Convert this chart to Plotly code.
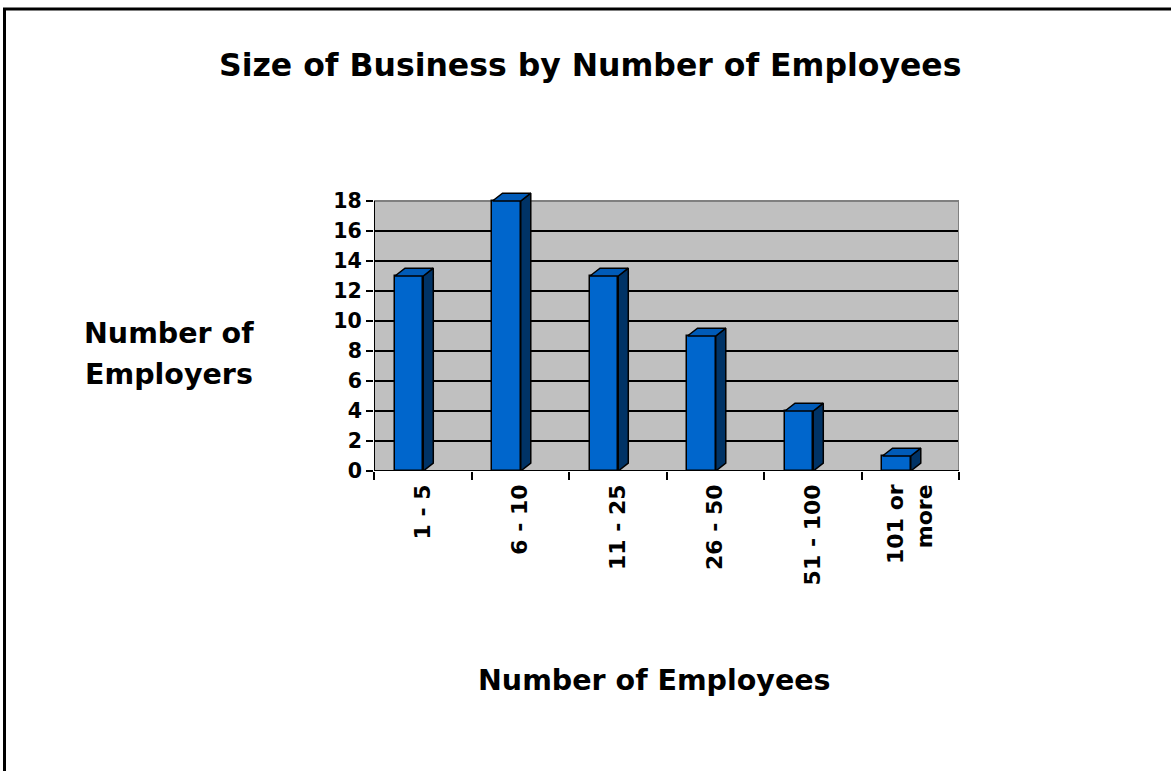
import plotly.graph_objects as go

categories = ["1 - 5", "6 - 10", "11 - 25", "26 - 50", "51 - 100", "101 or<br>more"]
employers = [13, 18, 13, 9, 4, 1]
y_ticks = [0, 2, 4, 6, 8, 10, 12, 14, 16, 18]

FONT = "DejaVu Sans"
FRONT = "#0066CC"
SIDE = "#003366"
TOP = "#005BB8"
EDGE = "black"

# layout geometry (pixels)
L, R, T, B = 374, 212, 189, 300
W, H = 1171, 771
pw, ph = W - L - R, H - T - B
YMAX = 18.8

# 3D depth offsets in data units
DX = 0.103
DY = 0.52
BW = 0.29
OFF = -0.285

xs = list(range(len(categories)))

fig = go.Figure()

fig.add_trace(go.Bar(
    x=xs, y=employers, width=BW, offset=OFF,
    marker=dict(color=FRONT, line=dict(color=EDGE, width=1.5)),
    showlegend=False, hoverinfo="skip"))

for x, v in zip(xs, employers):
    x0 = x + OFF
    x1 = x0 + BW
    # side face
    fig.add_trace(go.Scatter(
        x=[x1, x1 + DX, x1 + DX, x1, x1], y=[0, DY, v + DY, v, 0],
        fill="toself", fillcolor=SIDE, mode="lines",
        line=dict(color=EDGE, width=1.5), showlegend=False, hoverinfo="skip"))
    # top face
    fig.add_trace(go.Scatter(
        x=[x0, x0 + DX, x1 + DX, x1, x0], y=[v, v + DY, v + DY, v, v],
        fill="toself", fillcolor=TOP, mode="lines",
        line=dict(color=EDGE, width=1.5), showlegend=False, hoverinfo="skip"))

# invisible trace on secondary x axis for boundary tick marks
fig.add_trace(go.Scatter(x=[-0.5, 5.5], y=[0, 0], xaxis="x2", mode="markers",
                         marker=dict(opacity=0), showlegend=False, hoverinfo="skip"))

def px(xp):
    return (xp - L) / pw

def py(yp):
    return (H - B - yp) / ph

shapes = [
    # grey plot wall
    dict(type="rect", xref="x", yref="y", x0=-0.5, x1=5.5, y0=0, y1=18,
         fillcolor="#C0C0C0", line=dict(width=0), layer="below"),
    # grey wall border
    dict(type="rect", xref="x", yref="y", x0=-0.5, x1=5.5, y0=0, y1=18,
         line=dict(color="#808080", width=2), layer="between"),
    # left axis line
    dict(type="line", xref="x", yref="y", x0=-0.5, x1=-0.5, y0=0, y1=18,
         line=dict(color="black", width=2), layer="between"),
    # bottom axis line
    dict(type="line", xref="x", yref="y", x0=-0.5, x1=5.5, y0=0, y1=0,
         line=dict(color="black", width=2), layer="between"),
    # outer chart border
    dict(type="rect", xref="paper", yref="paper",
         x0=px(4.5), x1=px(1180), y0=py(790), y1=py(9),
         line=dict(color="black", width=3), layer="above"),
]

annotations = [
    dict(text="<b>Size of Business by Number of Employees</b>", xref="paper", yref="paper",
         x=px(590), y=py(65), xanchor="center", yanchor="middle", showarrow=False,
         font=dict(family=FONT, size=31.5, color="black")),
    dict(text="<b>Number of</b>", xref="paper", yref="paper",
         x=px(169), y=py(333), xanchor="center", yanchor="middle", showarrow=False,
         font=dict(family=FONT, size=28.5, color="black")),
    dict(text="<b>Employers</b>", xref="paper", yref="paper",
         x=px(169), y=py(374), xanchor="center", yanchor="middle", showarrow=False,
         font=dict(family=FONT, size=28.5, color="black")),
    dict(text="<b>Number of Employees</b>", xref="paper", yref="paper",
         x=px(654), y=py(680), xanchor="center", yanchor="middle", showarrow=False,
         font=dict(family=FONT, size=28.5, color="black")),
]

fig.update_layout(
    width=W, height=H,
    margin=dict(l=L, r=R, t=T, b=B, pad=0),
    paper_bgcolor="white", plot_bgcolor="rgba(0,0,0,0)",
    bargap=0,
    shapes=shapes, annotations=annotations,
    xaxis=dict(range=[-0.5, 5.5], tickmode="array", tickvals=xs, ticktext=categories,
               tickangle=-90, ticks="", showgrid=False, zeroline=False, showline=False,
               ticklabelstandoff=8,
               tickfont=dict(family=FONT, size=22, color="black", weight="bold"),
               fixedrange=True),
    xaxis2=dict(range=[-0.5, 5.5], overlaying="x", side="bottom", tickmode="array",
                tickvals=[-0.5, 0.5, 1.5, 2.5, 3.5, 4.5, 5.5], ticks="outside", ticklen=8,
                tickwidth=2, tickcolor="black", showticklabels=False, showgrid=False,
                zeroline=False, showline=False, anchor="y"),
    yaxis=dict(range=[0, YMAX], tickmode="array", tickvals=y_ticks,
               ticks="outside", ticklen=7, tickwidth=2, tickcolor="black",
               showgrid=True, gridcolor="black", gridwidth=2, zeroline=False, showline=False,
               tickfont=dict(family=FONT, size=20.5, color="black", weight="bold"),
               fixedrange=True),
)

fig.write_html("out.html", config={"displayModeBar": False},
               post_script="document.body.style.margin='0';")
